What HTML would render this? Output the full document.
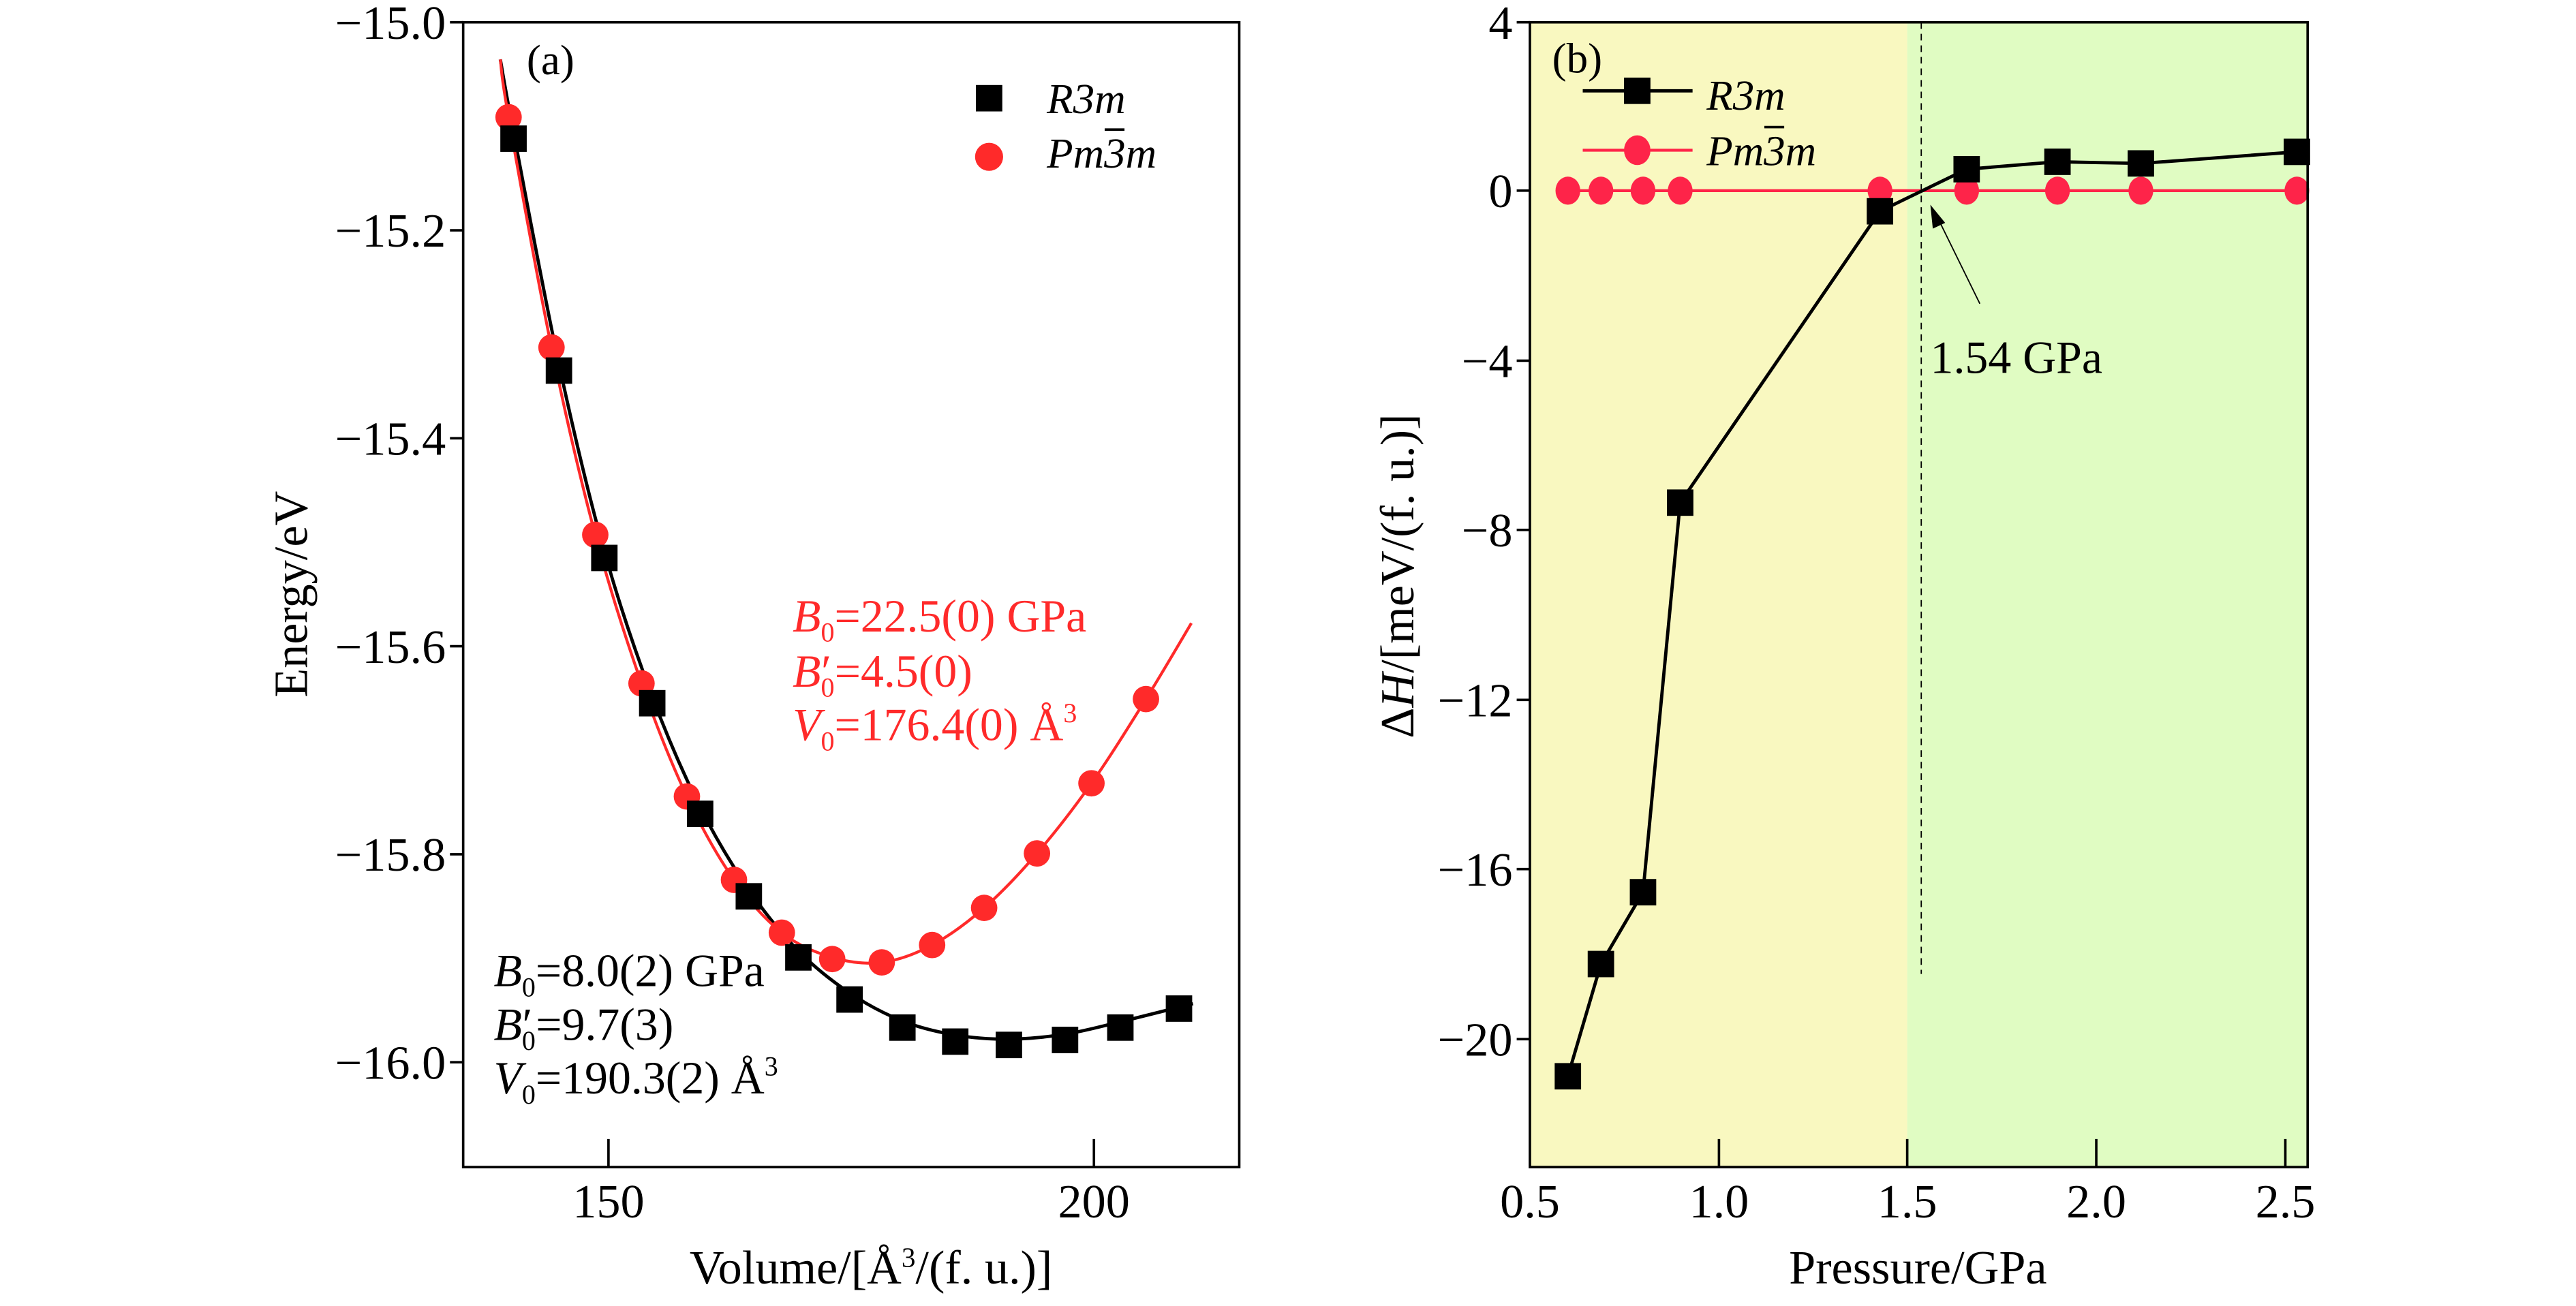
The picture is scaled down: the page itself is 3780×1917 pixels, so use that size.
<!DOCTYPE html>
<html><head><meta charset="utf-8"><style>
html,body{margin:0;padding:0;background:#fff;}
svg{display:block;}
text{font-family:"Liberation Serif",serif;}
.r{fill:#ff2a2a;}
</style></head><body>
<svg width="3780" height="1917" viewBox="0 0 3780 1917" xmlns="http://www.w3.org/2000/svg">
<g transform="scale(1.2115)">
  <path id="cb" d="" fill="none" stroke="#000" stroke-width="4"/>
  <path id="cr" d="" fill="none" stroke="#ff2a2a" stroke-width="3.5"/>
  <g fill="#ff2a2a">
    <circle cx="616" cy="142" r="16"/><circle cx="668" cy="421" r="16"/><circle cx="721" cy="648" r="16"/>
    <circle cx="777" cy="828" r="16"/><circle cx="832" cy="965" r="16"/><circle cx="889" cy="1066" r="16"/>
    <circle cx="947" cy="1130" r="16"/><circle cx="1008" cy="1162" r="16"/><circle cx="1068" cy="1166" r="16"/>
    <circle cx="1129" cy="1145" r="16"/><circle cx="1192" cy="1100" r="16"/><circle cx="1256" cy="1034" r="16"/>
    <circle cx="1322" cy="949" r="16"/><circle cx="1388" cy="847" r="16"/>
  </g>
  <g fill="#000">
    <rect x="606" y="152" width="32" height="32"/><rect x="661" y="433" width="32" height="32"/>
    <rect x="716" y="660" width="32" height="32"/><rect x="774" y="836" width="32" height="32"/>
    <rect x="832" y="970" width="32" height="32"/><rect x="891" y="1070" width="32" height="32"/>
    <rect x="951" y="1144" width="32" height="32"/><rect x="1013" y="1195" width="32" height="32"/>
    <rect x="1077" y="1229" width="32" height="32"/><rect x="1141" y="1246" width="32" height="32"/>
    <rect x="1206" y="1250" width="32" height="32"/><rect x="1274" y="1244" width="32" height="32"/>
    <rect x="1341" y="1229" width="32" height="32"/><rect x="1412" y="1206" width="32" height="32"/>
  </g>
  <rect x="561" y="27" width="940" height="1387" fill="none" stroke="#000" stroke-width="3"/>
  <g stroke="#000" stroke-width="3">
    <line x1="545" y1="27" x2="561" y2="27"/><line x1="545" y1="279" x2="561" y2="279"/>
    <line x1="545" y1="531" x2="561" y2="531"/><line x1="545" y1="783" x2="561" y2="783"/>
    <line x1="545" y1="1035" x2="561" y2="1035"/><line x1="545" y1="1287" x2="561" y2="1287"/>
    <line x1="737" y1="1380" x2="737" y2="1414"/><line x1="1325" y1="1380" x2="1325" y2="1414"/>
  </g>
  <g font-size="58" text-anchor="end">
    <text x="540" y="47">−15.0</text><text x="540" y="299">−15.2</text><text x="540" y="551">−15.4</text>
    <text x="540" y="803">−15.6</text><text x="540" y="1055">−15.8</text><text x="540" y="1307">−16.0</text>
  </g>
  <g font-size="58" text-anchor="middle">
    <text x="737" y="1475">150</text><text x="1325" y="1475">200</text>
    <text x="1055" y="1555">Volume/[Å<tspan font-size="34" dy="-20">3</tspan><tspan dy="20">/(f. u.)]</tspan></text>
  </g>
  <text font-size="58" text-anchor="middle" transform="translate(372,720) rotate(-90)">Energy/eV</text>
  <text x="638" y="90" font-size="52">(a)</text>
  <rect x="1182" y="103" width="32" height="32" fill="#000"/>
  <circle cx="1198" cy="190" r="17" fill="#ff2a2a"/>
  <text x="1268" y="137" font-size="52" font-style="italic">R3m</text>
  <text x="1268" y="203" font-size="52" font-style="italic">Pm3m</text>
  <line x1="1338" y1="157" x2="1362" y2="157" stroke="#000" stroke-width="3"/>
  <g font-size="56">
    <text x="960" y="765" class="r"><tspan font-style="italic">B</tspan><tspan font-size="33" dy="12">0</tspan><tspan dy="-12">=22.5(0) GPa</tspan></text>
    <text x="960" y="832" class="r"><tspan font-style="italic">B</tspan><tspan font-size="33" dy="12">0</tspan><tspan dy="-12" dx="-16">′</tspan><tspan dx="4">=4.5(0)</tspan></text>
    <text x="960" y="897" class="r"><tspan font-style="italic">V</tspan><tspan font-size="33" dy="12">0</tspan><tspan dy="-12">=176.4(0) Å</tspan><tspan font-size="33" dy="-22">3</tspan></text>
  </g>
  <g font-size="56">
    <text x="598" y="1195"><tspan font-style="italic">B</tspan><tspan font-size="33" dy="12">0</tspan><tspan dy="-12">=8.0(2) GPa</tspan></text>
    <text x="598" y="1260"><tspan font-style="italic">B</tspan><tspan font-size="33" dy="12">0</tspan><tspan dy="-12" dx="-16">′</tspan><tspan dx="4">=9.7(3)</tspan></text>
    <text x="598" y="1325"><tspan font-style="italic">V</tspan><tspan font-size="33" dy="12">0</tspan><tspan dy="-12">=190.3(2) Å</tspan><tspan font-size="33" dy="-22">3</tspan></text>
  </g>
</g>
<g transform="translate(1890,0) scale(1.2115)">
  <rect x="293" y="27" width="457" height="1387" fill="#f9f8c0"/>
  <rect x="750" y="27" width="485" height="1387" fill="#e0fcc2"/>
  <line x1="767" y1="27" x2="767" y2="1180" stroke="#000" stroke-width="1.5" stroke-dasharray="8,6"/>
  <line x1="325" y1="231" x2="1235" y2="231" stroke="#ff2448" stroke-width="3.5"/>
  <g fill="#fe2449">
    <ellipse cx="339" cy="231" rx="15" ry="17"/><ellipse cx="379" cy="231" rx="15" ry="17"/>
    <ellipse cx="430" cy="231" rx="15" ry="17"/><ellipse cx="475" cy="231" rx="15" ry="17"/>
    <ellipse cx="717" cy="231" rx="15" ry="17"/><ellipse cx="822" cy="231" rx="15" ry="17"/>
    <ellipse cx="932" cy="231" rx="15" ry="17"/><ellipse cx="1033" cy="231" rx="15" ry="17"/>
    <ellipse cx="1222" cy="231" rx="15" ry="17"/>
  </g>
  <polyline points="339,1304 379,1168 430,1081 475,609 717,256 822,205 932,196 1033,198 1222,184" fill="none" stroke="#000" stroke-width="4"/>
  <g fill="#000">
    <rect x="323" y="1288" width="32" height="32"/><rect x="363" y="1152" width="32" height="32"/>
    <rect x="414" y="1065" width="32" height="32"/><rect x="459" y="593" width="32" height="32"/>
    <rect x="701" y="240" width="32" height="32"/><rect x="806" y="189" width="32" height="32"/>
    <rect x="916" y="180" width="32" height="32"/><rect x="1017" y="182" width="32" height="32"/>
    <rect x="1206" y="168" width="32" height="32"/>
  </g>
  <line x1="838" y1="368" x2="786" y2="262" stroke="#000" stroke-width="1.5"/>
  <polygon points="778,248 781,277 796,270" fill="#000"/>
  <text x="778" y="452" font-size="56">1.54 GPa</text>
  <rect x="293" y="27" width="942" height="1387" fill="none" stroke="#000" stroke-width="3"/>
  <g stroke="#000" stroke-width="3">
    <line x1="277" y1="27" x2="293" y2="27"/><line x1="277" y1="231" x2="293" y2="231"/>
    <line x1="277" y1="437" x2="293" y2="437"/><line x1="277" y1="642" x2="293" y2="642"/>
    <line x1="277" y1="848" x2="293" y2="848"/><line x1="277" y1="1053" x2="293" y2="1053"/>
    <line x1="277" y1="1259" x2="293" y2="1259"/>
    <line x1="522" y1="1380" x2="522" y2="1414"/><line x1="750" y1="1380" x2="750" y2="1414"/>
    <line x1="979" y1="1380" x2="979" y2="1414"/><line x1="1208" y1="1380" x2="1208" y2="1414"/>
  </g>
  <g font-size="58" text-anchor="end">
    <text x="272" y="47">4</text><text x="272" y="251">0</text><text x="272" y="457">−4</text>
    <text x="272" y="662">−8</text><text x="272" y="868">−12</text><text x="272" y="1073">−16</text>
    <text x="272" y="1279">−20</text>
  </g>
  <g font-size="58" text-anchor="middle">
    <text x="293" y="1475">0.5</text><text x="522" y="1475">1.0</text><text x="750" y="1475">1.5</text>
    <text x="979" y="1475">2.0</text><text x="1208" y="1475">2.5</text>
    <text x="763" y="1555">Pressure/GPa</text>
  </g>
  <text font-size="58" text-anchor="middle" transform="translate(152,698) rotate(-90)">Δ<tspan font-style="italic">H</tspan>/[meV/(f. u.)]</text>
  <text x="320" y="88" font-size="52">(b)</text>
  <line x1="357" y1="110" x2="490" y2="110" stroke="#000" stroke-width="4"/>
  <rect x="407" y="94" width="32" height="32" fill="#000"/>
  <line x1="357" y1="182" x2="490" y2="182" stroke="#ff2448" stroke-width="3.5"/>
  <ellipse cx="423" cy="182" rx="16" ry="18" fill="#fe2449"/>
  <text x="507" y="133" font-size="52" font-style="italic">R3m</text>
  <text x="507" y="200" font-size="52" font-style="italic">Pm3m</text>
  <line x1="577" y1="154" x2="601" y2="154" stroke="#000" stroke-width="3"/>
</g>
</svg>
<script>
function smooth(pts){
  let d="M"+pts[0][0]+","+pts[0][1];
  for(let i=0;i<pts.length-1;i++){
    const p0=pts[Math.max(0,i-1)],p1=pts[i],p2=pts[i+1],p3=pts[Math.min(pts.length-1,i+2)];
    const c1=[p1[0]+(p2[0]-p0[0])/6,p1[1]+(p2[1]-p0[1])/6];
    const c2=[p2[0]-(p3[0]-p1[0])/6,p2[1]-(p3[1]-p1[1])/6];
    d+=" C"+c1[0]+","+c1[1]+" "+c2[0]+","+c2[1]+" "+p2[0]+","+p2[1];
  }
  return d;
}
document.getElementById("cb").setAttribute("d",smooth([[606,72],[622,160],[677,441],[732,668],[790,844],[848,978],[907,1078],[967,1152],[1029,1203],[1093,1237],[1157,1254],[1222,1259],[1290,1253],[1357,1238],[1445,1216]]));
document.getElementById("cr").setAttribute("d",smooth([[606,72],[616,142],[668,421],[721,648],[777,828],[832,965],[889,1066],[947,1130],[1008,1160],[1068,1166],[1129,1145],[1192,1100],[1256,1034],[1322,949],[1388,847],[1443,755]]));
</script>
</body></html>
